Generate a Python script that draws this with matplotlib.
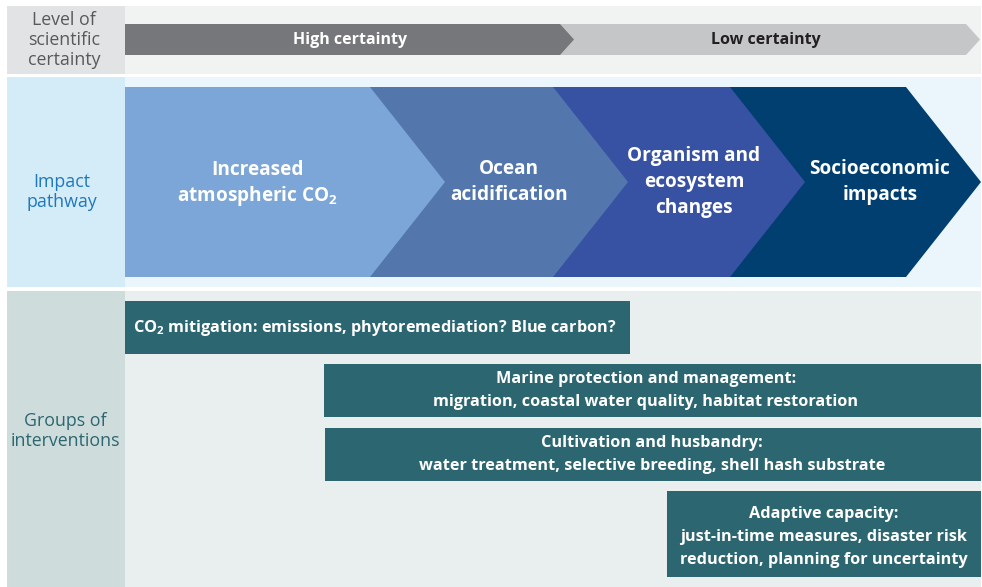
import matplotlib
matplotlib.use("Agg")
import matplotlib.pyplot as plt
from matplotlib.patches import Polygon, Rectangle

plt.rcParams['font.family'] = ['Open Sans', 'DejaVu Sans']

# ---- data ----
row_labels = ["Level of\nscientific\ncertainty", "Impact\npathway", "Groups of\ninterventions"]
row_spans = [(6, 74), (77, 287), (291, 587)]
row_label_colors = ["#58595b", "#1f78bd", "#2c6670"]
row_left_bg = ["#e2e3e5", "#d3ecf8", "#cfdcdc"]
row_right_bg = ["#f1f2f2", "#eaf6fc", "#e9efef"]
row_label_pos = [(64, 40), (62, 192), (65, 431)]

certainty_labels = ["High certainty", "Low certainty"]
certainty_ends = [574, 980]
certainty_colors = ["#76777a", "#c5c6c8"]
certainty_text_colors = ["white", "#231f20"]
certainty_text_x = [350, 766]

stages = ["Increased\natmospheric CO$\\mathregular{_2}$", "Ocean\nacidification",
          "Organism and\necosystem\nchanges", "Socioeconomic\nimpacts"]
stage_tips = [445, 628, 805, 981]
stage_text_x = [258, 509, 694, 880]
stage_colors = ["#7ba6d7", "#5377ad", "#3852a3", "#003f70"]

interventions = [
    "CO$\\mathregular{_2}$ mitigation: emissions, phytoremediation? Blue carbon?",
    "Marine protection and management:\nmigration, coastal water quality, habitat restoration",
    "Cultivation and husbandry:\nwater treatment, selective breeding, shell hash substrate",
    "Adaptive capacity:\njust-in-time measures, disaster risk\nreduction, planning for uncertainty",
]
box_x = [(125, 630), (324, 981), (325, 981), (667, 981)]
box_y = [(301, 354), (364, 417), (428, 481), (491, 577)]
box_text_x = [133, 646, 652, 824]
box_color = "#2c6670"

W, H = 982, 587
fig = plt.figure(figsize=(W / 100, H / 100), dpi=100)
ax = fig.add_axes([0, 0, 1, 1])
ax.set_xlim(0, W)
ax.set_ylim(H, 0)
ax.axis("off")

LEFT0, LEFT1, RIGHT1 = 7, 125, 981

# rows
for lab, (y0, y1), tc, lb, rb, (tx, ty) in zip(row_labels, row_spans, row_label_colors,
                                               row_left_bg, row_right_bg, row_label_pos):
    ax.add_patch(Rectangle((LEFT0, y0), LEFT1 - LEFT0, y1 - y0, fc=lb, ec="none"))
    ax.add_patch(Rectangle((LEFT1, y0), RIGHT1 - LEFT1, y1 - y0, fc=rb, ec="none"))
    ax.text(tx, ty, lab, color=tc, fontsize=12.8, ha="center", va="center", linespacing=1.13)

# certainty arrows
cy0, cy1 = 24, 55
cym = (cy0 + cy1) / 2
for end, col in sorted(zip(certainty_ends, certainty_colors), reverse=True):
    ax.add_patch(Polygon([(LEFT1, cy0), (end - 14, cy0), (end, cym), (end - 14, cy1), (LEFT1, cy1)],
                         closed=True, fc=col, ec="none"))
for lab, x, tc in zip(certainty_labels, certainty_text_x, certainty_text_colors):
    ax.text(x, cym + 1, lab, color=tc, fontsize=11.5, fontweight="bold", ha="center", va="center")

# chevrons
sy0, sy1 = 87, 277
sym = (sy0 + sy1) / 2
depth = 75
for tip, col in reversed(list(zip(stage_tips, stage_colors))):
    ax.add_patch(Polygon([(LEFT1, sy0), (tip - depth, sy0), (tip, sym), (tip - depth, sy1), (LEFT1, sy1)],
                         closed=True, fc=col, ec="none"))
for lab, x in zip(stages, stage_text_x):
    ls = 1.2 if "$" in lab else 1.42
    ax.text(x, sym + (2 if "$" in lab else 0), lab, color="white", fontsize=13.7, fontweight="bold",
            ha="center", va="center", linespacing=ls)

# intervention boxes
for i, (lab, (x0, x1), (y0, y1), tx) in enumerate(zip(interventions, box_x, box_y, box_text_x)):
    ax.add_patch(Rectangle((x0, y0), x1 - x0, y1 - y0, fc=box_color, ec="none"))
    ax.text(tx, (y0 + y1) / 2 + (0 if i < 3 else 3), lab, color="white", fontsize=11.7, fontweight="bold",
            ha="left" if i == 0 else "center", va="center", linespacing=1.55)

fig.savefig("out.png", dpi=100)
